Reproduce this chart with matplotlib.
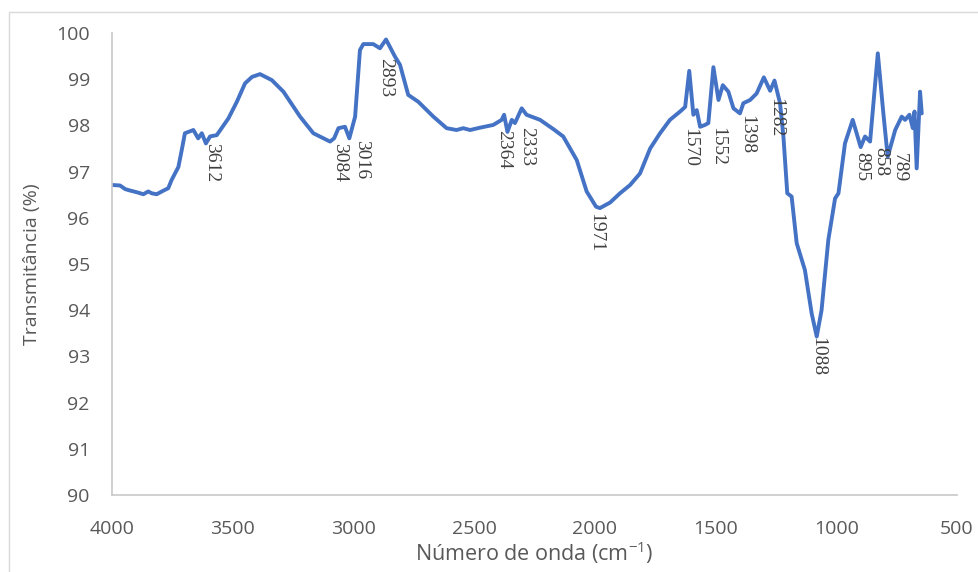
import matplotlib
matplotlib.use("Agg")
import matplotlib.pyplot as plt
from matplotlib.patches import Rectangle

plt.rcParams["mathtext.fontset"] = "custom"
plt.rcParams["mathtext.rm"] = "Open Sans"
plt.rcParams["mathtext.it"] = "Open Sans"

# Spectrum (wavenumber cm-1, transmittance %)
wavenumber = [4000, 3967, 3945, 3925, 3895, 3870, 3850, 3835, 3815, 3790, 3767, 3753, 3725, 3711, 3698,
              3663, 3643, 3628, 3611, 3594, 3566, 3518, 3483, 3449, 3420, 3387,
              3338, 3290, 3221, 3166, 3097, 3080, 3062, 3035, 3017, 2993, 2973,
              2959, 2918, 2890, 2865, 2828, 2807, 2773, 2731, 2669, 2614, 2573,
              2545, 2517, 2476, 2421, 2386, 2376, 2362, 2344, 2331, 2303, 2283,
              2227, 2172, 2131, 2075, 2034, 1995, 1979, 1937, 1896, 1854, 1813,
              1771, 1730, 1689, 1647, 1626, 1609, 1592, 1578, 1564, 1544, 1530,
              1509, 1488, 1470, 1447, 1426, 1399, 1385, 1357, 1330, 1300, 1274,
              1256, 1233, 1219, 1203, 1185, 1164, 1130, 1102, 1081, 1061, 1033,
              1005, 991, 964, 932, 899, 881, 860, 828, 805, 787, 756, 729, 715,
              697, 683, 676, 667, 653, 646]
transmittance = [96.71, 96.70, 96.62, 96.59, 96.55, 96.51, 96.57, 96.53, 96.51, 96.58, 96.64, 96.82, 97.10, 97.47, 97.83,
                 97.90, 97.72, 97.83, 97.61, 97.76, 97.79, 98.15, 98.51, 98.91, 99.05, 99.11,
                 98.98, 98.73, 98.19, 97.83, 97.65, 97.72, 97.94, 97.97, 97.72, 98.19, 99.63,
                 99.76, 99.76, 99.67, 99.86, 99.49, 99.31, 98.66, 98.51, 98.19, 97.94, 97.90,
                 97.94, 97.90, 97.95, 98.01, 98.12, 98.23, 97.86, 98.12, 98.05, 98.37, 98.23,
                 98.12, 97.92, 97.76, 97.25, 96.57, 96.24, 96.21, 96.33, 96.53, 96.71, 96.96,
                 97.50, 97.83, 98.12, 98.30, 98.40, 99.18, 98.23, 98.33, 97.97, 98.01, 98.05,
                 99.26, 98.55, 98.87, 98.73, 98.37, 98.26, 98.48, 98.55, 98.69, 99.04, 98.75,
                 98.97, 98.48, 97.76, 96.53, 96.46, 95.45, 94.87, 93.93, 93.43, 94.00, 95.52,
                 96.42, 96.53, 97.61, 98.12, 97.53, 97.76, 97.65, 99.56, 98.26, 97.32, 97.90,
                 98.19, 98.12, 98.23, 97.94, 98.30, 97.07, 98.73, 98.26]

# Peak labels: text, anchor wavenumber, anchor transmittance (top of text)
peak_labels = ["3612", "3084", "3016", "2893", "2364", "2333", "1971", "1570",
               "1552", "1398", "1282", "1088", "895", "858", "789"]
label_x = [3587, 3058, 2966, 2865, 2379, 2283, 1995, 1606,
           1493, 1371, 1250, 1077, 895, 816, 740]
label_y = [97.61, 97.61, 97.68, 99.45, 97.90, 97.97, 96.10, 97.94,
           97.97, 98.23, 98.59, 93.43, 97.43, 97.54, 97.40]

x_ticks = [4000, 3500, 3000, 2500, 2000, 1500, 1000, 500]
y_ticks = [90, 91, 92, 93, 94, 95, 96, 97, 98, 99, 100]

fig = plt.figure(figsize=(9.79, 5.72), dpi=100)
fig.patch.set_facecolor("white")
# chart-area border
fig.patches.append(Rectangle((9 / 979, -0.05), 1.0, 1 - 12 / 572 + 0.05,
                             transform=fig.transFigure, fill=False,
                             edgecolor="#d9d9d9", linewidth=1.0))

ax = fig.add_axes([112 / 979, 1 - 495 / 572, (957 - 112) / 979, (495 - 33) / 572])
ax.plot(wavenumber, transmittance, color="#4472C4", linewidth=2.8,
        solid_joinstyle="round", solid_capstyle="round")

ax.set_xlim(4000, 500)
ax.set_ylim(90, 100)
ax.set_xticks(x_ticks)
ax.set_yticks(y_ticks)

for lab in ax.get_xticklabels() + ax.get_yticklabels():
    lab.set_family("Open Sans")
    lab.set_fontsize(14)
    lab.set_color("#595959")
ax.tick_params(axis="both", length=0)
ax.tick_params(axis="x", pad=18)
ax.tick_params(axis="y", pad=16)

for s in ["top", "right"]:
    ax.spines[s].set_visible(False)
for s in ["left", "bottom"]:
    ax.spines[s].set_color("#c8c8c8")
    ax.spines[s].set_linewidth(1.2)

ax.set_xlabel("Número de onda (cm$^{-1}$)", fontsize=15.5, color="#595959",
              family="Open Sans", labelpad=1)
ax.set_ylabel("Transmitância (%)", fontsize=14, color="#595959",
              family="Open Sans", labelpad=11)

for t, x, y in zip(peak_labels, label_x, label_y):
    ax.text(x, y, t, rotation=270, ha="center", va="top",
            family="Liberation Serif", fontsize=14, color="#404040")

fig.savefig("out.png", dpi=100, facecolor="white")
